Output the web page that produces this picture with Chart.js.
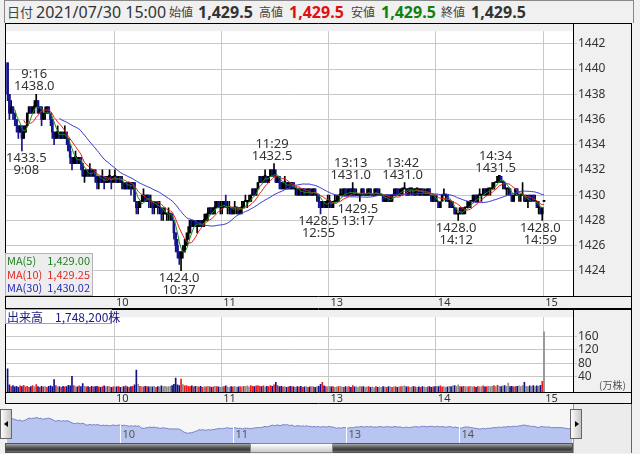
<!DOCTYPE html>
<html lang="ja">
<head>
<meta charset="utf-8">
<title>1分足チャート</title>
<script src="https://cdn.jsdelivr.net/npm/chart.js@4.4.1/dist/chart.umd.min.js"></script>
<style>
  body { margin: 0; width: 640px; height: 454px; background: #f0f0f0; position: relative; overflow: hidden;
         font-family: 'Noto Sans', 'Noto Sans CJK JP', sans-serif; color: #333; }
  .abs { position: absolute; }
  canvas { position: absolute; display: block; }
  #header { left: 4px; top: 0; width: 630px; height: 23px; border: 1px solid #888; border-bottom: none; box-sizing: border-box; }
  #header span { position: absolute; top: 0; line-height: 23px; white-space: nowrap; }
  .hl { font-size: 12px; color: #444; }
  .hv { font-size: 16px; font-weight: bold; }
  #maLegend { left: 5px; top: 253px; width: 88px; height: 43px; background: rgba(236,236,236,0.92); border: 1px solid #b4b4b4; box-sizing: border-box;
              font-family: 'Noto Sans CJK JP', sans-serif; font-size: 11px; }
  #maLegend div { display: flex; justify-content: space-between; padding: 0 2px 0 1px; line-height: 13.7px; white-space: nowrap; }
  #volLabel { left: 5px; top: 309px; width: 107px; height: 15px; background: #fff; border: 1px solid #9ea3c4; box-sizing: border-box;
              font-family: 'Noto Sans CJK JP', sans-serif; font-size: 12px; line-height: 13px; color: #1a1a80; padding-left: 1px; white-space: nowrap; }
  #volUnit { left: 599px; top: 377px; width: 31px; font-size: 10px; color: #555; font-family: 'Noto Sans CJK JP', sans-serif; white-space: nowrap; }
  #navRight { left: 573px; top: 404px; width: 59px; height: 49px; background: #ececec; border-left: 1px solid #999; border-right: 1px solid #666; box-sizing: border-box; }
  #scroll { left: 5px; top: 443px; width: 568px; height: 10px; background: linear-gradient(#a8a8a8, #555 45%, #3c3c3c 70%, #6e6e6e); border: 1px solid #555; box-sizing: border-box; }
  #thumb { left: 250px; top: 443px; width: 83px; height: 10px; background: linear-gradient(#ffffff, #dedede 60%, #c8c8c8); border: 1px solid #888; box-sizing: border-box; }
  .btn { top: 409px; width: 12px; height: 30px; background: linear-gradient(to right, #fdfdfd, #c4c4c4); border: 1px solid #666; box-sizing: border-box; }
  .tri { position: absolute; top: 11px; width: 0; height: 0; border-top: 3px solid transparent; border-bottom: 3px solid transparent; }
</style>
</head>
<body>

<div id="header" class="abs">
  <span class="hl" style="left:2px;font-size:13px;">日付</span>
  <span id="hDate" style="left:31px;font-size:16px;">2021/07/30 15:00</span>
  <span class="hl" style="left:164px;">始値</span>
  <span class="hv" id="hOpen" style="left:193px;"></span>
  <span class="hl" style="left:254px;">高値</span>
  <span class="hv" id="hHigh" style="left:284px;color:#e01010;"></span>
  <span class="hl" style="left:346px;">安値</span>
  <span class="hv" id="hLow" style="left:376px;color:#108010;"></span>
  <span class="hl" style="left:436px;">終値</span>
  <span class="hv" id="hClose" style="left:466px;"></span>
</div>

<canvas id="mainChart" width="627" height="286" style="left:5px;top:23px;"></canvas>
<div id="maLegend" class="abs">
  <div style="color:#1f7f1f;"><span>MA(5)</span><span id="ma5Val"></span></div>
  <div style="color:#e02828;"><span>MA(10)</span><span id="ma10Val"></span></div>
  <div style="color:#2a2ab8;"><span>MA(30)</span><span id="ma30Val"></span></div>
</div>

<canvas id="volumeChart" width="627" height="95" style="left:5px;top:309px;"></canvas>
<div id="volLabel" class="abs"></div>
<div id="volUnit" class="abs">(万株)</div>

<canvas id="navChart" width="567" height="39" style="left:6px;top:404px;"></canvas>
<div id="navRight" class="abs"></div>
<div id="scroll" class="abs"></div>
<div id="thumb" class="abs"></div>
<div class="btn abs" style="left:0;"><div class="tri" style="left:3px;border-right:4px solid #000;"></div></div>
<div class="btn abs" style="left:570px;"><div class="tri" style="left:4px;border-left:4px solid #000;"></div></div>

<script>
// 1-minute bars, index 0 = 9:00 ... 149 = 11:29, 150 = 12:30 ... 299 = 14:59, 300 = 15:00
const opens = [
  1440.5, 1438.0, 1436.5, 1437.0, 1436.5, 1436.0, 1435.5, 1435.0, 1435.5, 1434.5,
  1435.0, 1435.5, 1436.5, 1437.0, 1436.5, 1437.0, 1437.0, 1437.5, 1436.5, 1437.0,
  1436.0, 1436.5, 1436.5, 1437.0, 1436.5, 1436.0, 1435.0, 1434.5, 1435.0, 1435.0,
  1434.5, 1435.0, 1434.5, 1435.0, 1434.5, 1433.5, 1433.0, 1432.5, 1433.0, 1433.0,
  1432.5, 1433.0, 1432.5, 1431.5, 1431.5, 1432.0, 1431.5, 1432.0, 1431.5, 1432.0,
  1431.5, 1431.0, 1431.5, 1431.0, 1431.5, 1431.0, 1431.0, 1431.5, 1431.5, 1431.0,
  1431.5, 1431.5, 1431.0, 1431.5, 1431.0, 1431.0, 1430.5, 1431.0, 1430.5, 1431.0,
  1430.5, 1431.0, 1429.5, 1429.0, 1429.0, 1429.5, 1429.5, 1430.0, 1429.5, 1430.0,
  1429.5, 1429.5, 1429.0, 1429.0, 1429.5, 1429.0, 1429.0, 1428.5, 1428.5, 1428.5,
  1428.5, 1428.5, 1428.5, 1428.0, 1427.0, 1426.0, 1425.5, 1425.0, 1425.5, 1425.5,
  1426.0, 1426.5, 1427.0, 1428.0, 1427.5, 1428.0, 1427.5, 1427.5, 1428.0, 1427.5,
  1428.0, 1428.0, 1428.5, 1428.5, 1429.0, 1428.5, 1429.0, 1429.0, 1429.5, 1429.0,
  1429.0, 1429.0, 1429.5, 1429.0, 1429.0, 1429.0, 1428.5, 1429.0, 1429.0, 1429.0,
  1428.5, 1429.0, 1429.0, 1429.5, 1429.5, 1429.5, 1429.5, 1430.0, 1430.5, 1430.0,
  1430.5, 1431.0, 1431.5, 1431.0, 1431.5, 1431.5, 1431.0, 1431.5, 1432.0, 1431.5,
  1431.5, 1431.0, 1431.5, 1431.0, 1430.5, 1431.0, 1431.0, 1430.5, 1431.0, 1430.5,
  1431.0, 1430.5, 1430.5, 1430.0, 1430.5, 1430.0, 1430.5, 1430.0, 1430.0, 1430.5,
  1430.0, 1430.0, 1430.5, 1430.0, 1430.0, 1429.5, 1429.0, 1429.5, 1429.0, 1429.5,
  1429.5, 1429.5, 1429.0, 1429.5, 1429.5, 1429.5, 1430.0, 1430.0, 1430.0, 1430.5,
  1430.0, 1430.0, 1430.5, 1430.0, 1430.5, 1430.0, 1430.0, 1430.0, 1430.0, 1430.5,
  1430.0, 1430.0, 1430.0, 1430.5, 1430.0, 1430.0, 1430.0, 1430.5, 1430.0, 1430.0,
  1430.0, 1429.5, 1429.5, 1430.0, 1429.5, 1429.5, 1430.0, 1430.0, 1430.5, 1430.0,
  1430.0, 1430.5, 1430.5, 1430.5, 1430.0, 1430.5, 1430.5, 1430.5, 1430.0, 1430.5,
  1430.5, 1430.0, 1430.5, 1430.0, 1430.0, 1430.0, 1430.5, 1430.0, 1429.5, 1430.0,
  1429.5, 1429.5, 1429.0, 1429.5, 1430.0, 1430.0, 1430.0, 1429.5, 1429.5, 1429.0,
  1429.0, 1428.5, 1428.5, 1428.5, 1429.0, 1428.5, 1429.0, 1429.0, 1429.0, 1429.5,
  1429.5, 1429.5, 1430.0, 1429.5, 1430.0, 1430.0, 1430.0, 1430.5, 1430.0, 1430.5,
  1430.5, 1430.5, 1430.5, 1431.0, 1431.0, 1431.5, 1431.5, 1431.0, 1431.0, 1430.5,
  1430.5, 1430.5, 1430.0, 1429.5, 1430.0, 1430.5, 1430.0, 1430.0, 1430.0, 1430.0,
  1429.5, 1429.5, 1430.0, 1429.5, 1430.0, 1429.5, 1429.5, 1429.0, 1429.0, 1428.5, 1429.5
];
const highs = [
  1440.5, 1438.0, 1437.5, 1437.0, 1436.5, 1436.0, 1435.5, 1435.5, 1435.5, 1435.5,
  1435.5, 1436.5, 1437.0, 1437.0, 1437.0, 1437.5, 1438.0, 1437.5, 1437.0, 1437.0,
  1436.5, 1437.0, 1437.0, 1437.0, 1436.5, 1436.0, 1435.0, 1435.0, 1435.5, 1435.0,
  1435.0, 1435.0, 1435.5, 1435.0, 1434.5, 1434.0, 1433.0, 1433.0, 1433.5, 1433.0,
  1433.0, 1433.0, 1432.5, 1432.0, 1432.0, 1432.0, 1432.5, 1432.0, 1432.0, 1432.0,
  1431.5, 1431.5, 1431.5, 1432.0, 1431.5, 1431.5, 1431.5, 1432.0, 1431.5, 1431.5,
  1432.0, 1431.5, 1431.5, 1431.5, 1431.5, 1431.0, 1431.0, 1431.0, 1431.0, 1431.0,
  1431.0, 1431.0, 1429.5, 1429.5, 1429.5, 1430.0, 1430.5, 1430.0, 1430.0, 1430.0,
  1430.0, 1429.5, 1429.5, 1429.5, 1429.5, 1429.5, 1429.0, 1429.0, 1429.0, 1428.5,
  1429.0, 1428.5, 1428.5, 1428.0, 1427.0, 1426.5, 1425.5, 1425.5, 1426.0, 1426.5,
  1427.0, 1427.5, 1428.0, 1428.0, 1428.0, 1428.0, 1428.0, 1428.0, 1428.0, 1428.0,
  1428.5, 1428.5, 1429.0, 1429.0, 1429.0, 1429.0, 1429.5, 1429.5, 1429.5, 1429.5,
  1429.5, 1429.5, 1430.0, 1429.5, 1429.5, 1429.0, 1429.0, 1429.5, 1429.0, 1429.0,
  1429.0, 1429.5, 1429.5, 1430.0, 1429.5, 1430.0, 1430.0, 1430.5, 1430.5, 1430.5,
  1431.0, 1431.5, 1431.5, 1431.5, 1432.0, 1431.5, 1431.5, 1432.0, 1432.0, 1432.5,
  1432.0, 1431.5, 1431.5, 1431.0, 1431.0, 1431.5, 1431.0, 1431.0, 1431.0, 1431.0,
  1431.0, 1430.5, 1430.5, 1430.5, 1430.5, 1430.5, 1430.5, 1430.5, 1430.5, 1430.5,
  1430.5, 1430.5, 1430.5, 1430.0, 1430.0, 1429.5, 1429.5, 1429.5, 1429.5, 1430.0,
  1430.0, 1429.5, 1429.5, 1430.0, 1430.0, 1430.0, 1430.5, 1430.5, 1430.5, 1430.5,
  1430.5, 1430.5, 1430.5, 1431.0, 1430.5, 1430.5, 1430.0, 1430.0, 1430.5, 1430.5,
  1430.0, 1430.5, 1430.5, 1430.5, 1430.0, 1430.5, 1430.5, 1430.5, 1430.5, 1430.0,
  1430.0, 1430.0, 1430.0, 1430.0, 1430.0, 1430.0, 1430.5, 1430.5, 1430.5, 1430.5,
  1430.5, 1430.5, 1431.0, 1430.5, 1430.5, 1430.5, 1430.5, 1430.5, 1430.5, 1430.5,
  1430.5, 1430.5, 1430.5, 1430.5, 1430.5, 1430.5, 1430.5, 1430.0, 1430.0, 1430.0,
  1430.0, 1429.5, 1429.5, 1430.0, 1430.5, 1430.0, 1430.0, 1429.5, 1429.5, 1429.5,
  1429.0, 1429.0, 1428.5, 1429.0, 1429.0, 1429.0, 1429.0, 1429.5, 1429.5, 1429.5,
  1430.0, 1430.0, 1430.0, 1430.0, 1430.5, 1430.0, 1430.5, 1430.5, 1430.5, 1430.5,
  1430.5, 1431.0, 1431.0, 1431.0, 1431.5, 1431.5, 1431.5, 1431.0, 1431.0, 1430.5,
  1430.5, 1430.5, 1430.0, 1430.0, 1430.5, 1430.5, 1430.0, 1430.0, 1431.0, 1430.0,
  1430.0, 1430.0, 1430.0, 1430.0, 1430.0, 1430.0, 1429.5, 1429.5, 1429.0, 1429.0, 1429.5
];
const lows = [
  1437.5, 1436.0, 1436.5, 1436.0, 1435.5, 1435.0, 1434.5, 1435.0, 1433.5, 1434.5,
  1435.0, 1435.5, 1436.5, 1436.5, 1436.5, 1436.5, 1437.0, 1436.5, 1436.5, 1435.5,
  1436.0, 1436.0, 1436.5, 1436.5, 1435.5, 1434.5, 1434.0, 1434.5, 1434.5, 1434.5,
  1434.5, 1434.5, 1434.5, 1434.0, 1433.5, 1432.5, 1432.0, 1432.5, 1432.5, 1432.5,
  1432.5, 1432.0, 1431.5, 1431.0, 1431.5, 1431.5, 1431.5, 1431.5, 1431.5, 1431.0,
  1430.5, 1430.5, 1431.0, 1431.0, 1430.5, 1431.0, 1431.0, 1431.0, 1430.5, 1431.0,
  1431.0, 1431.0, 1431.0, 1431.0, 1430.5, 1430.5, 1430.5, 1430.5, 1430.5, 1430.0,
  1430.5, 1429.5, 1428.5, 1428.5, 1429.0, 1429.5, 1429.5, 1429.5, 1429.5, 1429.0,
  1429.0, 1428.5, 1428.5, 1429.0, 1428.5, 1428.5, 1428.0, 1428.0, 1428.5, 1428.0,
  1428.0, 1428.0, 1428.0, 1426.5, 1425.5, 1425.0, 1424.5, 1424.0, 1425.0, 1425.5,
  1426.0, 1426.5, 1427.0, 1427.5, 1427.5, 1427.5, 1427.0, 1427.5, 1427.5, 1427.5,
  1427.5, 1428.0, 1428.0, 1428.5, 1428.5, 1428.5, 1428.5, 1429.0, 1429.0, 1428.5,
  1428.5, 1429.0, 1429.0, 1428.5, 1428.5, 1428.5, 1428.5, 1428.5, 1428.5, 1428.5,
  1428.5, 1428.5, 1429.0, 1429.5, 1429.0, 1429.5, 1429.5, 1430.0, 1430.0, 1430.0,
  1430.5, 1431.0, 1431.0, 1431.0, 1431.0, 1431.0, 1431.0, 1431.5, 1431.5, 1431.5,
  1431.0, 1431.0, 1430.5, 1430.5, 1430.5, 1430.5, 1430.5, 1430.5, 1430.5, 1430.5,
  1430.5, 1430.0, 1430.0, 1430.0, 1430.0, 1430.0, 1430.0, 1430.0, 1430.0, 1430.0,
  1430.0, 1430.0, 1430.0, 1429.5, 1429.0, 1428.5, 1429.0, 1429.0, 1429.0, 1429.0,
  1429.0, 1429.0, 1429.0, 1429.5, 1429.5, 1429.5, 1430.0, 1430.0, 1430.0, 1430.0,
  1430.0, 1430.0, 1430.0, 1430.0, 1430.0, 1430.0, 1430.0, 1429.5, 1430.0, 1430.0,
  1430.0, 1430.0, 1430.0, 1430.0, 1430.0, 1430.0, 1430.0, 1430.0, 1430.0, 1430.0,
  1429.5, 1429.5, 1429.5, 1429.5, 1429.5, 1429.5, 1430.0, 1430.0, 1430.0, 1430.0,
  1430.0, 1430.0, 1430.5, 1430.0, 1430.0, 1430.0, 1430.0, 1430.0, 1430.0, 1430.0,
  1430.0, 1430.0, 1430.0, 1430.0, 1430.0, 1430.0, 1430.0, 1429.5, 1429.5, 1429.5,
  1429.5, 1429.0, 1429.0, 1429.5, 1430.0, 1429.5, 1429.5, 1429.0, 1429.0, 1429.0,
  1428.5, 1428.5, 1428.0, 1428.5, 1428.5, 1428.5, 1428.5, 1429.0, 1429.0, 1429.0,
  1429.5, 1429.5, 1429.5, 1429.5, 1430.0, 1429.5, 1430.0, 1430.0, 1430.0, 1430.0,
  1430.0, 1430.5, 1430.5, 1431.0, 1431.0, 1431.0, 1431.0, 1430.5, 1430.5, 1430.0,
  1430.0, 1430.0, 1429.5, 1429.5, 1430.0, 1430.0, 1429.5, 1429.5, 1430.0, 1429.5,
  1429.5, 1429.0, 1429.5, 1429.5, 1429.5, 1429.5, 1429.0, 1428.5, 1428.5, 1428.0, 1429.5
];
const closes = [
  1438.0, 1436.5, 1437.0, 1436.5, 1436.0, 1435.5, 1435.0, 1435.5, 1434.5, 1435.0,
  1435.5, 1436.5, 1437.0, 1436.5, 1437.0, 1437.0, 1437.5, 1436.5, 1437.0, 1436.0,
  1436.5, 1436.5, 1437.0, 1436.5, 1436.0, 1435.0, 1434.5, 1435.0, 1435.0, 1434.5,
  1435.0, 1434.5, 1435.0, 1434.5, 1433.5, 1433.0, 1432.5, 1433.0, 1433.0, 1432.5,
  1433.0, 1432.5, 1431.5, 1431.5, 1432.0, 1431.5, 1432.0, 1431.5, 1432.0, 1431.5,
  1431.0, 1431.5, 1431.0, 1431.5, 1431.0, 1431.0, 1431.5, 1431.5, 1431.0, 1431.5,
  1431.5, 1431.0, 1431.5, 1431.0, 1431.0, 1430.5, 1431.0, 1430.5, 1431.0, 1430.5,
  1431.0, 1429.5, 1429.0, 1429.0, 1429.5, 1429.5, 1430.0, 1429.5, 1430.0, 1429.5,
  1429.5, 1429.0, 1429.0, 1429.5, 1429.0, 1429.0, 1428.5, 1428.5, 1428.5, 1428.5,
  1428.5, 1428.5, 1428.0, 1427.0, 1426.0, 1425.5, 1425.0, 1425.5, 1425.5, 1426.0,
  1426.5, 1427.0, 1428.0, 1427.5, 1428.0, 1427.5, 1427.5, 1428.0, 1427.5, 1428.0,
  1428.0, 1428.5, 1428.5, 1429.0, 1428.5, 1429.0, 1429.0, 1429.5, 1429.0, 1429.0,
  1429.0, 1429.5, 1429.0, 1429.0, 1429.0, 1428.5, 1429.0, 1429.0, 1429.0, 1428.5,
  1429.0, 1429.0, 1429.5, 1429.5, 1429.5, 1429.5, 1430.0, 1430.5, 1430.0, 1430.5,
  1431.0, 1431.5, 1431.0, 1431.5, 1431.5, 1431.0, 1431.5, 1432.0, 1431.5, 1432.0,
  1431.0, 1431.5, 1431.0, 1430.5, 1431.0, 1431.0, 1430.5, 1431.0, 1430.5, 1431.0,
  1430.5, 1430.5, 1430.0, 1430.5, 1430.0, 1430.5, 1430.0, 1430.0, 1430.5, 1430.0,
  1430.0, 1430.5, 1430.0, 1430.0, 1429.5, 1429.0, 1429.5, 1429.0, 1429.5, 1429.5,
  1429.5, 1429.0, 1429.5, 1429.5, 1429.5, 1430.0, 1430.0, 1430.0, 1430.5, 1430.0,
  1430.0, 1430.5, 1430.0, 1430.5, 1430.0, 1430.0, 1430.0, 1430.0, 1430.5, 1430.0,
  1430.0, 1430.0, 1430.5, 1430.0, 1430.0, 1430.0, 1430.5, 1430.0, 1430.0, 1430.0,
  1429.5, 1429.5, 1430.0, 1429.5, 1429.5, 1430.0, 1430.0, 1430.5, 1430.0, 1430.0,
  1430.5, 1430.5, 1430.5, 1430.0, 1430.5, 1430.5, 1430.5, 1430.0, 1430.5, 1430.5,
  1430.0, 1430.5, 1430.0, 1430.0, 1430.0, 1430.5, 1430.0, 1429.5, 1430.0, 1429.5,
  1429.5, 1429.0, 1429.5, 1430.0, 1430.0, 1430.0, 1429.5, 1429.5, 1429.0, 1429.0,
  1428.5, 1428.5, 1428.5, 1429.0, 1428.5, 1429.0, 1429.0, 1429.0, 1429.5, 1429.5,
  1429.5, 1430.0, 1429.5, 1430.0, 1430.0, 1430.0, 1430.5, 1430.0, 1430.5, 1430.5,
  1430.5, 1430.5, 1431.0, 1431.0, 1431.5, 1431.5, 1431.0, 1431.0, 1430.5, 1430.5,
  1430.5, 1430.0, 1429.5, 1430.0, 1430.5, 1430.0, 1430.0, 1430.0, 1430.0, 1429.5,
  1429.5, 1429.5, 1429.5, 1429.5, 1429.5, 1429.5, 1429.0, 1429.0, 1428.5, 1429.0, 1429.5
];
// volume per minute, in 万株
const volumes = [
  63, 14, 9, 12, 8, 10, 7, 11, 9, 13,
  8, 10, 7, 9, 12, 8, 15, 9, 7, 10,
  8, 9, 7, 10, 11, 9, 30, 12, 8, 9,
  7, 10, 8, 9, 13, 11, 40, 12, 9, 8,
  11, 9, 18, 10, 8, 9, 7, 10, 8, 9,
  10, 8, 7, 9, 11, 8, 10, 9, 7, 8,
  9, 8, 10, 7, 8, 9, 11, 8, 7, 9,
  10, 14, 59, 16, 10, 9, 8, 10, 9, 8,
  9, 8, 10, 7, 9, 8, 11, 9, 10, 8,
  9, 10, 12, 16, 35, 14, 12, 32, 15, 11,
  12, 10, 9, 11, 8, 10, 9, 8, 10, 7,
  9, 8, 10, 9, 7, 8, 10, 9, 8, 7,
  8, 9, 11, 8, 7, 9, 8, 10, 7, 8,
  9, 8, 10, 9, 11, 8, 12, 10, 9, 11,
  12, 10, 9, 11, 8, 10, 9, 12, 10, 14,
  22, 12, 9, 10, 8, 9, 7, 8, 10, 9,
  8, 7, 9, 8, 10, 7, 8, 9, 7, 8,
  9, 8, 7, 9, 10, 16, 22, 11, 9, 8,
  10, 8, 9, 7, 8, 9, 10, 8, 7, 9,
  8, 9, 7, 12, 8, 9, 7, 10, 8, 9,
  7, 8, 9, 7, 8, 6, 9, 7, 8, 7,
  9, 8, 7, 9, 8, 7, 8, 9, 7, 8,
  9, 10, 11, 8, 9, 7, 8, 9, 8, 7,
  8, 7, 9, 8, 7, 8, 9, 7, 8, 9,
  10, 9, 11, 8, 9, 7, 8, 10, 9, 11,
  12, 10, 14, 9, 8, 10, 9, 8, 9, 10,
  8, 9, 7, 10, 8, 9, 11, 8, 9, 10,
  9, 10, 12, 9, 13, 10, 9, 11, 12, 10,
  20, 9, 10, 8, 9, 10, 11, 9, 12, 22,
  10, 9, 11, 10, 12, 9, 11, 10, 13, 25, 174.82
];

const timeTicks = [60, 120, 180, 240, 300];
const timeLabels = ['10', '11', '13', '14', '15'];
const priceTicks = [1424, 1426, 1428, 1430, 1432, 1434, 1436, 1438, 1440, 1442];
const volumeTicks = [40, 80, 120, 160];
const highMarks = [16, 149, 193, 222, 274];
const lowMarks = [8, 97, 175, 197, 252, 299];

const gridColor = '#c8c8c8';
const upColor = '#000000';
const downColor = '#14148c';

const movingAverage = (list, n) => list.map((v, i) => {
  if (i < n - 1) return null;
  let sum = 0;
  for (let k = i - n + 1; k <= i; k++) sum += list[k];
  return sum / n;
});

const timeOf = (i) => {
  let min = i < 150 ? 9 * 60 + i : 12 * 60 + 30 + (i - 150);
  return Math.floor(min / 60) + ':' + String(min % 60).padStart(2, '0');
};

const fmt = (v, d) => v.toLocaleString('en-US', {minimumFractionDigits: d, maximumFractionDigits: d});

const ma5 = movingAverage(closes, 5);
const ma10 = movingAverage(closes, 10);
const ma30 = movingAverage(closes, 30);
const last = closes.length - 1;

document.getElementById('hOpen').textContent = fmt(opens[last], 1);
document.getElementById('hHigh').textContent = fmt(highs[last], 1);
document.getElementById('hLow').textContent = fmt(lows[last], 1);
document.getElementById('hClose').textContent = fmt(closes[last], 1);
document.getElementById('ma5Val').textContent = fmt(ma5[last], 2);
document.getElementById('ma10Val').textContent = fmt(ma10[last], 2);
document.getElementById('ma30Val').textContent = fmt(ma30[last], 2);
document.getElementById('volLabel').textContent = '出来高　' + fmt(Math.round(volumes[last] * 10000), 0) + '株';

Chart.defaults.font.family = "'Noto Sans', 'Noto Sans CJK JP', sans-serif";
Chart.defaults.color = '#333';

// white plot area + black frames
const framePlugin = {
  id: 'frame',
  beforeDraw(chart) {
    const {ctx, chartArea: a} = chart;
    ctx.save();
    ctx.fillStyle = '#ffffff';
    ctx.fillRect(a.left, a.top, a.right - a.left, a.bottom - a.top);
    ctx.restore();
  },
  afterDraw(chart) {
    const {ctx, chartArea: a, width, height} = chart;
    ctx.save();
    ctx.strokeStyle = '#000';
    ctx.lineWidth = 1;
    ctx.beginPath();
    ctx.moveTo(0.5, 0); ctx.lineTo(0.5, height);
    ctx.moveTo(0, 0.5); ctx.lineTo(width, 0.5);
    ctx.moveTo(a.right + 0.5, 0); ctx.lineTo(a.right + 0.5, a.bottom);
    ctx.moveTo(0, a.bottom + 0.5); ctx.lineTo(width, a.bottom + 0.5);
    ctx.moveTo(width - 0.5, 0); ctx.lineTo(width - 0.5, height);
    ctx.moveTo(0, height - 0.5); ctx.lineTo(width, height - 0.5);
    ctx.stroke();
    ctx.restore();
  }
};

// high / low markers with time
const marksPlugin = {
  id: 'marks',
  afterDatasetsDraw(chart) {
    const {ctx, scales: {x, y}, chartArea: a} = chart;
    ctx.save();
    ctx.font = "13px 'Noto Sans', sans-serif";
    ctx.fillStyle = '#333';
    ctx.textAlign = 'center';
    ctx.textBaseline = 'middle';
    const put = (lines, i, py, dir) => {
      const w = Math.max(...lines.map(t => ctx.measureText(t).width));
      let cx = x.getPixelForValue(i + 0.5) - 2;
      cx = Math.max(cx, a.left + w / 2);
      ctx.fillText(lines[0], cx, py + dir * 7.5);
      ctx.fillText(lines[1], cx, py + dir * 19.5);
    };
    highMarks.forEach(i => put([highs[i].toFixed(1), timeOf(i)], i, y.getPixelForValue(highs[i]), -1));
    lowMarks.forEach(i => put([lows[i].toFixed(1), timeOf(i)], i, y.getPixelForValue(lows[i]), 1));
    ctx.restore();
  }
};

const timeAxis = (height) => ({
  type: 'linear', min: -0.4, max: 316.7, offset: false,
  afterFit: (s) => { s.height = height; },
  afterBuildTicks: (s) => { s.ticks = timeTicks.map(v => ({value: v})); },
  ticks: {
    callback: (v) => timeLabels[timeTicks.indexOf(v)],
    align: 'start', labelOffset: 2, padding: 0, autoSkip: false, maxRotation: 0,
    font: {size: 11}, color: '#333'
  },
  grid: {color: gridColor, drawTicks: false, offset: false},
  border: {display: false}
});

const candleColor = (i) => closes[i] >= opens[i] ? upColor : downColor;

new Chart(document.getElementById('mainChart'), {
  type: 'bar',
  data: {
    datasets: [
      {type: 'line', data: ma5.map((v, i) => ({x: i + 0.5, y: v})), borderColor: '#1f8a1f', borderWidth: 1, pointRadius: 0, tension: 0},
      {type: 'line', data: ma10.map((v, i) => ({x: i + 0.5, y: v})), borderColor: '#e82020', borderWidth: 1, pointRadius: 0, tension: 0},
      {type: 'line', data: ma30.map((v, i) => ({x: i + 0.5, y: v})), borderColor: '#3636d0', borderWidth: 1, pointRadius: 0, tension: 0},
      {
        data: opens.map((o, i) => ({x: i + 0.5, y: [o, closes[i]]})),
        backgroundColor: closes.map((c, i) => candleColor(i)),
        borderWidth: 0, barThickness: 2, minBarLength: 1, grouped: false
      },
      {
        data: lows.map((l, i) => ({x: i + 0.5, y: [l, highs[i]]})),
        backgroundColor: closes.map((c, i) => candleColor(i)),
        borderWidth: 0, barThickness: 1, grouped: false
      }
    ]
  },
  options: {
    animation: false, responsive: false, maintainAspectRatio: false,
    layout: {padding: {left: 1, top: 0, right: 0, bottom: 0}},
    plugins: {legend: {display: false}, tooltip: {enabled: false}},
    scales: {
      x: timeAxis(13),
      y: {
        position: 'right', min: 1422, max: 1443,
        afterFit: (s) => { s.width = 59; },
        afterBuildTicks: (s) => { s.ticks = priceTicks.map(v => ({value: v})); },
        ticks: {padding: 1, font: {size: 12}, color: '#333', callback: (v) => String(v)},
        grid: {color: gridColor, tickLength: 4},
        border: {display: false}
      }
    }
  },
  plugins: [framePlugin, marksPlugin]
});

const volMin = -7.4;
new Chart(document.getElementById('volumeChart'), {
  type: 'bar',
  data: {
    datasets: [{
      data: volumes.map((v, i) => ({x: i + 0.5, y: v})),
      backgroundColor: closes.map((c, i) => c > opens[i] ? '#f01818' : (c < opens[i] ? '#10108a' : '#8c8c8c')),
      base: volMin, barThickness: 1, grouped: false
    }]
  },
  options: {
    animation: false, responsive: false, maintainAspectRatio: false,
    layout: {padding: {left: 1, top: 0, right: 0, bottom: 0}},
    plugins: {legend: {display: false}, tooltip: {enabled: false}},
    scales: {
      x: timeAxis(12),
      y: {
        position: 'right', min: volMin, max: 219.3,
        afterFit: (s) => { s.width = 59; },
        afterBuildTicks: (s) => { s.ticks = volumeTicks.map(v => ({value: v})); },
        ticks: {padding: 1, font: {size: 12}, color: '#333', callback: (v) => String(v)},
        grid: {color: gridColor, tickLength: 4},
        border: {display: false}
      }
    }
  },
  plugins: [framePlugin]
});

const navPlugin = {
  id: 'navDeco',
  beforeDraw(chart) {
    const {ctx, width, height} = chart;
    ctx.save();
    ctx.fillStyle = '#f6f6f6';
    ctx.fillRect(0, 0, width, height);
    ctx.restore();
  },
  afterDatasetsDraw(chart) {
    const {ctx, scales: {x}, height} = chart;
    ctx.save();
    ctx.font = "11px 'Noto Sans', sans-serif";
    ctx.textBaseline = 'middle';
    timeTicks.slice(0, 4).forEach((t, k) => {
      const px = Math.round(x.getPixelForValue(t)) + 0.5;
      ctx.strokeStyle = '#ffffff';
      ctx.beginPath();
      ctx.moveTo(px, 21); ctx.lineTo(px, height);
      ctx.stroke();
      ctx.fillStyle = '#555';
      ctx.fillText(timeLabels[k], px + 2, 31);
    });
    ctx.restore();
  }
};

new Chart(document.getElementById('navChart'), {
  type: 'line',
  data: {
    datasets: [{
      data: closes.map((c, i) => ({x: i, y: c})),
      borderColor: '#7482c6', borderWidth: 1, pointRadius: 0, tension: 0,
      fill: 'start', backgroundColor: '#b8c5f1'
    }]
  },
  options: {
    animation: false, responsive: false, maintainAspectRatio: false,
    layout: {padding: 0},
    plugins: {legend: {display: false}, tooltip: {enabled: false}},
    scales: {
      x: {type: 'linear', display: false, min: -0.5, max: 300.5},
      y: {display: false, min: 1417.5, max: 1448}
    }
  },
  plugins: [navPlugin]
});
</script>
</body>
</html>
